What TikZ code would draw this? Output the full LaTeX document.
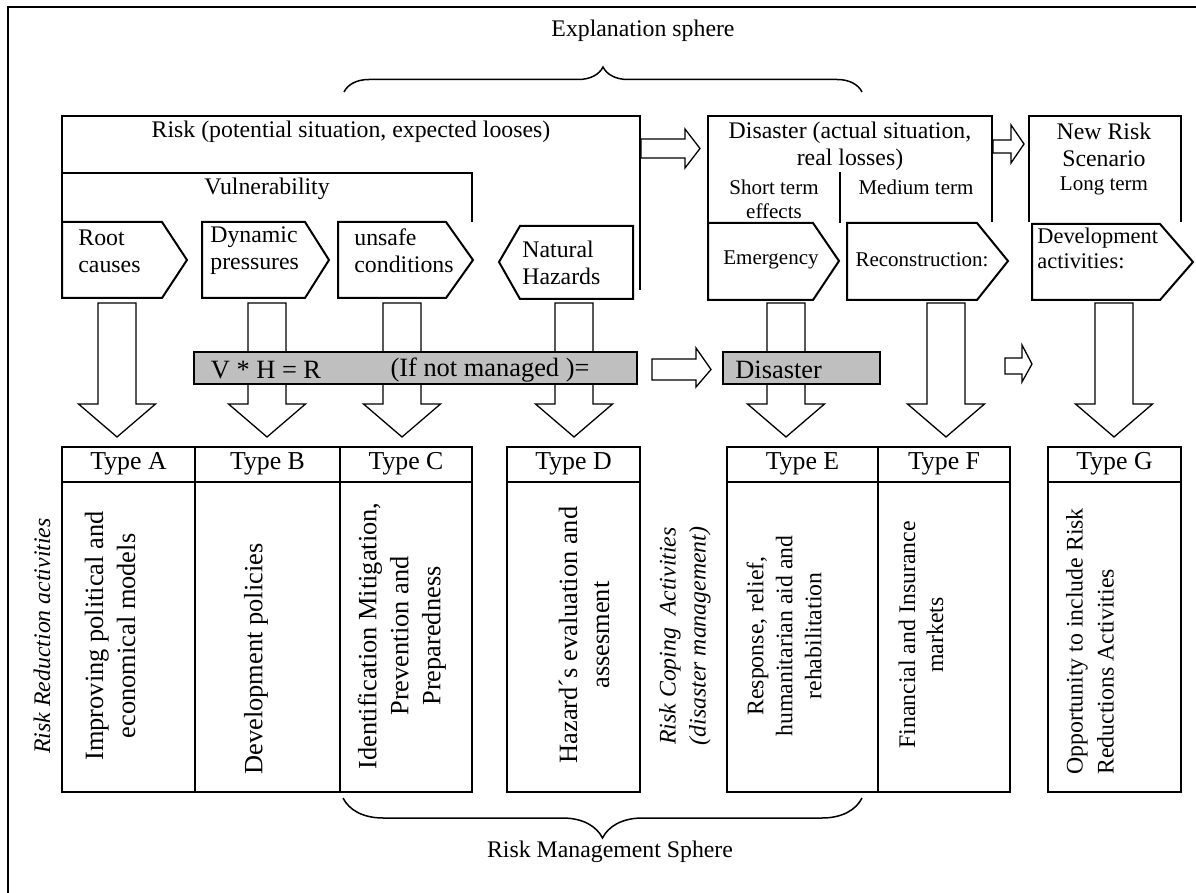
\documentclass[tikz,border=0pt]{standalone}
\usepackage{fontspec}
\setmainfont{Liberation Serif}
\usetikzlibrary{decorations.pathreplacing}

\begin{document}
\begin{tikzpicture}[x=0.5pt, y=-0.5pt, line join=miter,
	box/.style={draw=black, line width=1pt},
	blk/.style={draw=black, line width=0.65pt, fill=white},
	bar/.style={draw=black, line width=0.8pt, fill=black!25},
	brc/.style={draw=black, line width=0.75pt, decorate, decoration={brace, amplitude=#1}},
	txt/.style={inner sep=0pt, align=center, font=\fontsize{11.9}{13.5}\selectfont},
	sml/.style={inner sep=0pt, align=center, font=\fontsize{10.5}{12}\selectfont},
	big/.style={inner sep=0pt, align=center, font=\fontsize{13.2}{16}\selectfont},
	typ/.style={inner sep=0pt, font=\fontsize{12.9}{15}\selectfont},
	downarrow/.pic={\path[blk] (-19,0) -- (-19,101) -- (-38.5,101) -- (0,134) -- (38.5,101) -- (19,101) -- (19,0) -- cycle;}]
	\path[use as bounding box] (0,0) rectangle (1196,893);
	\draw[box] (1196,7) -- (8,7) -- (8,893);
	\node[txt] (expl) at (643,31) {Explanation sphere};
	\draw[brc=12.5pt] (344,92) -- (862,92);
	\draw[box] (62,222) -- (62,116) -- (640,116) -- (640,290);
	\node[txt] (risk) at (351,132) {Risk (potential situation, expected looses)};
	\draw[box] (62,173) -- (472,173) -- (472,222);
	\node[txt] (vuln) at (267,189) {Vulnerability};
	\draw[box] (62,222) -- (162,222) -- (187,260) -- (162,298) -- (62,298) -- cycle;
	\node[txt, anchor=west, align=left] (root) at (78,251) {Root\\causes};
	\draw[box] (202,222) -- (305,222) -- (329,260) -- (305,298) -- (202,298) -- cycle;
	\node[txt, anchor=west, align=left] (dyn) at (210,251) {Dynamic\\pressures};
	\draw[box] (338,222) -- (446,222) -- (473,260) -- (446,298) -- (338,298) -- cycle;
	\node[txt, anchor=west, align=left] (unsafe) at (354,251) {unsafe\\conditions};
	\draw[box] (499,262) -- (520,226) -- (633,226) -- (633,299) -- (520,299) -- cycle;
	\node[txt, anchor=west, align=left] (haz) at (522,263) {Natural\\Hazards};
	\path[blk] (641,139) -- (685,139) -- (685,129) -- (700,148.5) -- (685,168) -- (685,158) -- (641,158) -- cycle;
	\draw[box] (708,222) -- (708,116) -- (992,116) -- (992,222);
	\node[txt] (dis) at (850,146) {Disaster (actual situation,\\real losses)};
	\draw[box] (840,172) -- (840,223);
	\node[sml] (short) at (774,199) {Short term\\effects};
	\node[sml] (medium) at (916,187) {Medium term};
	\path[blk] (993,140) -- (1011,140) -- (1011,125) -- (1024,144) -- (1011,163) -- (1011,153) -- (993,153) -- cycle;
	\draw[box] (1029,222) -- (1029,116) -- (1181,116) -- (1181,222);
	\node[txt] (newrisk) at (1104,145) {New Risk\\Scenario};
	\node[sml] (long) at (1104,186) {Long term};
	\draw[box] (708,223) -- (813,223) -- (839,261) -- (813,300) -- (708,300) -- cycle;
	\node[sml] (emer) at (771,260) {Emergency};
	\draw[box] (847,223) -- (977,223) -- (1008,261) -- (977,300) -- (847,300) -- cycle;
	\node[sml] (recon) at (922,260) {Reconstruction:};
	\draw[box] (1032,224) -- (1160,224) -- (1193,262) -- (1160,300) -- (1032,300) -- cycle;
	\node[sml, anchor=west, align=left, font=\fontsize{11.2}{12.5}\selectfont] (devel) at (1037,248) {Development\\activities:};
	\foreach \x in {117,267,402,574,786,946,1114}
		\pic at (\x,303) {downarrow};
	\draw[bar] (194,352) rectangle (637,384);
	\node[big] (vhr) at (266,370) {V * H = R};
	\node[big] (ifnot) at (490,370) {(If not managed )=};
	\path[blk] (652,359) -- (696,359) -- (696,348) -- (711,369.5) -- (696,387) -- (696,380) -- (652,380) -- cycle;
	\draw[bar] (723,352) rectangle (880,384);
	\node[big, anchor=west] (disbar) at (735,370) {Disaster};
	\path[blk] (1005,358) -- (1022,358) -- (1022,345) -- (1032,364) -- (1022,382) -- (1022,374) -- (1005,374) -- cycle;
	\draw[box] (62,447) rectangle (472,792);
	\draw[box] (62,482) -- (472,482);
	\draw[box] (195,447) -- (195,792);
	\draw[box] (340,447) -- (340,792);
	\draw[box] (507,447) rectangle (640,792);
	\draw[box] (507,482) -- (640,482);
	\draw[box] (727,447) rectangle (1010,792);
	\draw[box] (727,482) -- (1010,482);
	\draw[box] (878,447) -- (878,792);
	\draw[box] (1048,447) rectangle (1181,792);
	\draw[box] (1048,482) -- (1181,482);
	\node[typ] (tA) at (128.5,464) {Type A};
	\node[typ] (tB) at (267.5,464) {Type B};
	\node[typ] (tC) at (406,464) {Type C};
	\node[typ] (tD) at (573.5,464) {Type D};
	\node[typ] (tE) at (802.5,464) {Type E};
	\node[typ] (tF) at (944,464) {Type F};
	\node[typ] (tG) at (1114.5,464) {Type G};
	\node[txt, rotate=90, font=\fontsize{11.9}{13.5}\selectfont\itshape] (rra) at (42,636) {Risk Reduction activities};
	\node[big, rotate=90] (bA) at (110,636) {Improving political and\\economical models};
	\node[big, rotate=90] (bB) at (256,659) {Development policies};
	\node[big, rotate=90] (bC) at (402,636) {Identification Mitigation,\\Prevention and\\Preparedness};
	\node[big, rotate=90] (bD) at (584,635) {Hazard´s evaluation and\\assesment};
	\node[txt, rotate=90, font=\fontsize{11.9}{15}\selectfont\itshape] (rca) at (685,636) {Risk Coping~~Activities\\(disaster management)};
	\node[txt, rotate=90, font=\fontsize{11.9}{14.5}\selectfont] (bE) at (784,636) {Response, relief,\\humanitarian aid and\\rehabilitation};
	\node[txt, rotate=90, font=\fontsize{11.9}{14}\selectfont] (bF) at (921,635) {Financial and Insurance\\markets};
	\node[txt, rotate=90, align=left, anchor=west, font=\fontsize{11.9}{15.5}\selectfont] (bG) at (1090,775) {Opportunity to include Risk\\Reductions Activities};
	\draw[brc=20pt] (862,798) -- (343,798);
	\node[txt] (rms) at (610,852) {Risk Management Sphere};
\end{tikzpicture}
\end{document}
